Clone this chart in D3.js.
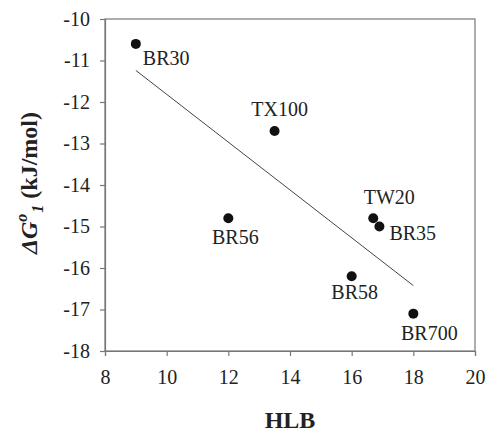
<!DOCTYPE html>
<html>
<head>
<meta charset="utf-8">
<script src="https://cdn.jsdelivr.net/npm/d3@7"></script>
<style>
  body { margin: 0; background: #fff; }
  text { font-family: "Liberation Serif", "Times New Roman", serif; }
</style>
</head>
<body>
<div id="chart"></div>
<script>
// Surfactant data: HLB vs Gibbs energy
const names = ["BR30", "TX100", "BR56", "TW20", "BR35", "BR58", "BR700"];
const hlb = [9, 13.5, 12, 16.7, 16.9, 16, 18];
const dG = [-10.6, -12.7, -14.8, -14.8, -15.0, -16.2, -17.1];
const xTicks = [8, 10, 12, 14, 16, 18, 20];
const yTicks = [-10, -11, -12, -13, -14, -15, -16, -17, -18];

// Label placement relative to each point (layout, not data)
const labelOffsets = {
  BR30: { dx: 7, dy: 21, anchor: "start" },
  TX100: { dx: 5, dy: -15, anchor: "middle" },
  BR56: { dx: 7, dy: 26, anchor: "middle" },
  TW20: { dx: 16, dy: -14, anchor: "middle" },
  BR35: { dx: 10, dy: 13, anchor: "start" },
  BR58: { dx: 3, dy: 23, anchor: "middle" },
  BR700: { dx: 16, dy: 26, anchor: "middle" }
};

const width = 486;
const height = 432;
const margin = { top: 19, right: 11, bottom: 81, left: 105 };
const innerW = width - margin.left - margin.right;
const innerH = height - margin.top - margin.bottom;

const svg = d3
  .select("#chart")
  .append("svg")
  .attr("width", width)
  .attr("height", height);

const g = svg
  .append("g")
  .attr("transform", `translate(${margin.left},${margin.top})`);

const x = d3.scaleLinear().domain([8, 20]).range([0, innerW]);
const y = d3.scaleLinear().domain([-18, -10]).range([innerH, 0]);

// Frame around plot area
g.append("rect")
  .attr("width", innerW)
  .attr("height", innerH)
  .attr("fill", "none")
  .attr("stroke", "#777")
  .attr("stroke-width", 1.2);

// Axes
const xAxis = g
  .append("g")
  .attr("transform", `translate(0,${innerH})`)
  .call(d3.axisBottom(x).tickValues(xTicks).tickSize(5).tickPadding(14));

const yAxis = g
  .append("g")
  .call(d3.axisLeft(y).tickValues(yTicks).tickSize(5).tickPadding(10).tickFormat(d3.format("d")));

[xAxis, yAxis].forEach((a) => {
  a.select(".domain").attr("stroke", "#777").attr("stroke-width", 1.2);
  a.selectAll(".tick line").attr("stroke", "#777").attr("stroke-width", 1.2);
  a.selectAll(".tick text")
    .attr("fill", "#222")
    .style("font-size", "20px")
    .style("font-family", '"Liberation Serif", serif');
});
yAxis.selectAll(".tick text").text((d) => String(d).replace("\u2212", "-"));

// Linear regression line over the data range
const n = hlb.length;
const mx = d3.mean(hlb);
const my = d3.mean(dG);
let sxy = 0;
let sxx = 0;
for (let i = 0; i < n; i++) {
  sxy += (hlb[i] - mx) * (dG[i] - my);
  sxx += (hlb[i] - mx) * (hlb[i] - mx);
}
const slope = sxy / sxx;
const intercept = my - slope * mx;
const xExt = d3.extent(hlb);

g.append("line")
  .attr("x1", x(xExt[0]))
  .attr("y1", y(intercept + slope * xExt[0]))
  .attr("x2", x(xExt[1]))
  .attr("y2", y(intercept + slope * xExt[1]))
  .attr("stroke", "#444")
  .attr("stroke-width", 1);

// Points
const pts = names.map((name, i) => ({ name, x: hlb[i], y: dG[i] }));

g.selectAll("circle.pt")
  .data(pts)
  .enter()
  .append("circle")
  .attr("class", "pt")
  .attr("cx", (d) => x(d.x))
  .attr("cy", (d) => y(d.y))
  .attr("r", 5)
  .attr("fill", "#111");

g.selectAll("text.lbl")
  .data(pts)
  .enter()
  .append("text")
  .attr("class", "lbl")
  .attr("x", (d) => x(d.x) + labelOffsets[d.name].dx)
  .attr("y", (d) => y(d.y) + labelOffsets[d.name].dy)
  .attr("text-anchor", (d) => labelOffsets[d.name].anchor)
  .attr("fill", "#222")
  .style("font-size", "20px")
  .text((d) => d.name);

// X axis title
svg.append("text")
  .attr("x", margin.left + innerW / 2)
  .attr("y", 428)
  .attr("text-anchor", "middle")
  .style("font-size", "24px")
  .style("font-weight", "bold")
  .attr("fill", "#222")
  .text("HLB");

// Y axis title: ΔG°₁ (kJ/mol)
const yTitle = svg.append("text")
  .attr("transform", `translate(37,183) rotate(-90)`)
  .attr("text-anchor", "middle")
  .style("font-size", "24px")
  .style("font-weight", "bold")
  .attr("fill", "#222");

yTitle.append("tspan").style("font-style", "italic").text("\u0394G");
yTitle.append("tspan").style("font-style", "italic").style("font-size", "16px").attr("dy", -10).text("o");
yTitle.append("tspan").style("font-style", "italic").style("font-size", "16px").attr("dx", 1).attr("dy", 16).text("1");
yTitle.append("tspan").attr("dy", -6).text(" (kJ/mol)");
</script>
</body>
</html>
